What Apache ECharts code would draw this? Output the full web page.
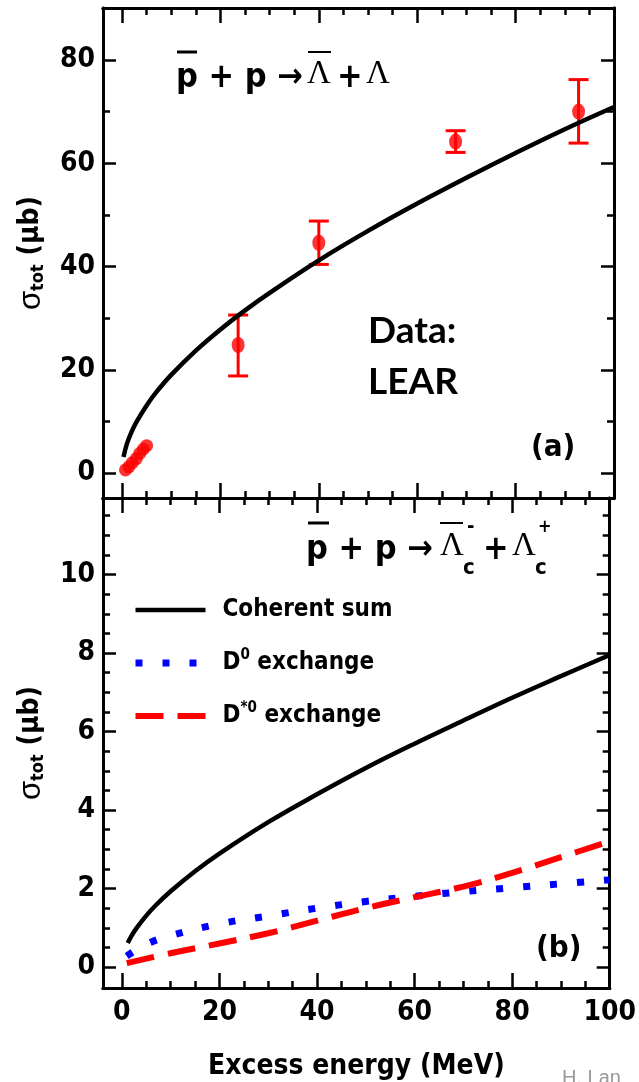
<!DOCTYPE html>
<html><head><meta charset="utf-8">
<script src="https://cdn.jsdelivr.net/npm/echarts@6/dist/echarts.min.js"></script>
<style>html,body{margin:0;padding:0;background:#fff}#c{width:639px;height:1082px}</style>
</head><body><div id="c"></div>
<script>
// ---------- data ----------
// panel (a): LEAR data near threshold (no visible error bars)
const lowE   = [0.7, 1.4, 2.1, 2.9, 3.6, 4.3, 5.0];
const lowSig = [0.6, 1.2, 2.0, 2.8, 3.8, 4.6, 5.3];
// panel (a): LEAR data with error bars
const errE   = [23.6, 40.0, 67.8, 92.8];
const errSig = [24.8, 44.6, 64.2, 70.0];
const errLo  = [18.8, 40.4, 62.1, 63.9];
const errHi  = [30.6, 48.8, 66.3, 76.2];
// panel (a): model curve
const curveAE   = [0.3, 1, 2, 3, 5, 7, 10, 15, 20, 25, 30, 40, 50, 60, 70, 80, 90, 100];
const curveASig = [3.1, 5.7, 8.1, 10.0, 13.1, 15.7, 19.0, 23.7, 27.8, 31.5, 34.9, 41.2, 46.9, 52.2, 57.2, 62.0, 66.6, 70.9];
// panel (b): model curves
const cohE   = [1.2, 2, 3, 5, 7, 10, 15, 20, 30, 40, 50, 60, 70, 80, 90, 100];
const cohSig = [0.61, 0.8, 0.99, 1.31, 1.58, 1.93, 2.44, 2.89, 3.69, 4.40, 5.07, 5.69, 6.28, 6.86, 7.41, 7.95];
const d0E    = [1, 5, 10, 20, 30, 40, 50, 60, 70, 80, 90, 100];
const d0Sig  = [0.28, 0.58, 0.8, 1.1, 1.3, 1.5, 1.67, 1.8, 1.92, 2.02, 2.12, 2.22];
const dsE    = [1, 10, 20, 30, 40, 50, 60, 70, 80, 90, 100];
const dsSig  = [0.1, 0.35, 0.6, 0.86, 1.18, 1.5, 1.78, 2.05, 2.4, 2.8, 3.2];
const legendNames = ['Coherent sum', 'D0 exchange', 'D*0 exchange'];
// ticks
const xMajor    = [0, 20, 40, 60, 80, 100];
const xMinor    = [5, 10, 15, 25, 30, 35, 45, 50, 55, 65, 70, 75, 85, 90, 95];
const yTopMajor = [0, 20, 40, 60, 80];
const yTopMinor = [10, 30, 50, 70];
const yBotMajor = [0, 2, 4, 6, 8, 10];
const yBotMinor = [0.5, 1, 1.5, 2.5, 3, 3.5, 4.5, 5, 5.5, 6.5, 7, 7.5, 8.5, 9, 9.5, 10.5, 11, 11.5];

// ---------- chart ----------
const NARROW = "'Liberation Sans Narrow', 'DejaVu Sans Condensed', 'Arial Narrow', sans-serif";
const SERIF = "'Liberation Serif', 'DejaVu Serif', serif";
const X_MIN = -3.87, X_MAX = 100;
const YA_MIN = -4.84, YA_MAX = 90.07;
const YB_MIN = -0.535, YB_MAX = 11.95;

function mkAxis(grid, pos, min, max, vals, len, showLabels, extra) {
  const a = {
    type: 'value', gridIndex: grid, position: pos, min: min, max: max,
    axisLine: { show: true, onZero: false, lineStyle: { color: '#000', width: 3 } },
    axisTick: { show: true, inside: true, length: len, customValues: vals, lineStyle: { color: '#000', width: 2.5 } },
    axisLabel: { show: false },
    splitLine: { show: false }
  };
  if (showLabels) {
    a.axisLabel = { show: true, customValues: vals, color: '#000', fontFamily: NARROW, fontWeight: 'bold', fontSize: 28,
      margin: (pos === 'left' ? 8 : 11) };
  }
  return Object.assign(a, extra || {});
}

const xAxes = [
  mkAxis(0, 'bottom', X_MIN, X_MAX, xMajor, 15, false),
  mkAxis(0, 'bottom', X_MIN, X_MAX, xMinor, 7, false),
  mkAxis(0, 'top', X_MIN, X_MAX, xMajor, 15, false),
  mkAxis(0, 'top', X_MIN, X_MAX, xMinor, 7, false),
  mkAxis(1, 'bottom', X_MIN, X_MAX, xMajor, 15, true, {
    name: 'Excess energy (MeV)', nameLocation: 'middle', nameGap: 65,
    nameTextStyle: { color: '#000', fontFamily: NARROW, fontWeight: 'bold', fontSize: 28 } }),
  mkAxis(1, 'bottom', X_MIN, X_MAX, xMinor, 7, false),
  mkAxis(1, 'top', X_MIN, X_MAX, xMajor, 15, false),
  mkAxis(1, 'top', X_MIN, X_MAX, xMinor, 7, false)
];
const yName = {
  name: '{s|σ}{t|tot}{u| (μb)}', nameLocation: 'middle', nameGap: 56, nameRotate: 90,
  nameTextStyle: { color: '#000', rich: {
    s: { fontFamily: "'Liberation Sans', sans-serif", fontSize: 31, color: '#000' },
    t: { fontFamily: NARROW, fontWeight: 'bold', fontSize: 18, color: '#000', verticalAlign: 'bottom', padding: [14, 0, 0, 0] },
    u: { fontFamily: NARROW, fontWeight: 'bold', fontSize: 28, color: '#000' } } }
};
const yAxes = [
  mkAxis(0, 'left', YA_MIN, YA_MAX, yTopMajor, 13, true, yName),
  mkAxis(0, 'left', YA_MIN, YA_MAX, yTopMinor, 7, false),
  mkAxis(0, 'right', YA_MIN, YA_MAX, yTopMajor, 13, false),
  mkAxis(0, 'right', YA_MIN, YA_MAX, yTopMinor, 7, false),
  mkAxis(1, 'left', YB_MIN, YB_MAX, yBotMajor, 13, true, yName),
  mkAxis(1, 'left', YB_MIN, YB_MAX, yBotMinor, 7, false),
  mkAxis(1, 'right', YB_MIN, YB_MAX, yBotMajor, 13, false),
  mkAxis(1, 'right', YB_MIN, YB_MAX, yBotMinor, 7, false)
];

const zip = (a, b) => a.map((v, i) => [v, b[i]]);
const lgFont = { color: '#000', fontFamily: NARROW, fontWeight: 'bold', fontSize: 24, lineHeight: 30 };

const option = {
  animation: false,
  backgroundColor: '#fff',
  grid: [
    { left: 103, right: 25, top: 8, height: 490 },
    { left: 103, right: 25, top: 498, height: 490 }
  ],
  xAxis: xAxes,
  yAxis: yAxes,
  legend: {
    orient: 'vertical', left: 127, top: 590, itemWidth: 70, itemHeight: 14, itemGap: 23,
    selectedMode: false,
    itemStyle: { opacity: 0 },
    lineStyle: { width: 'inherit', type: 'inherit', cap: 'inherit' },
    textStyle: Object.assign({}, lgFont, {
      rich: {
        g: { width: 12 },
        n: lgFont,
        sp: { color: '#000', fontFamily: NARROW, fontWeight: 'bold', fontSize: 15, lineHeight: 16, verticalAlign: 'top' }
      } }),
    formatter: function (name) {
      if (name === 'D0 exchange') return '{g|}{n|D}{sp|0}{n| exchange}';
      if (name === 'D*0 exchange') return '{g|}{n|D}{sp|*0}{n| exchange}';
      return '{g|}{n|' + name + '}';
    },
    data: legendNames
  },
  series: [
    { name: 'LEAR low', type: 'scatter', xAxisIndex: 0, yAxisIndex: 0, data: zip(lowE, lowSig),
      symbol: 'circle', symbolSize: 13, itemStyle: { color: '#ff0000' }, z: 3 },
    { name: 'LEAR', type: 'scatter', xAxisIndex: 0, yAxisIndex: 0, data: zip(errE, errSig),
      symbol: 'circle', symbolSize: [13, 16], itemStyle: { color: '#ff0000' }, z: 3 },
    { name: 'LEAR err', type: 'custom', xAxisIndex: 0, yAxisIndex: 0, z: 3,
      data: errE.map((e, i) => [e, errLo[i], errHi[i]]),
      renderItem: function (params, api) {
        const lo = api.coord([api.value(0), api.value(1)]);
        const hi = api.coord([api.value(0), api.value(2)]);
        const w = 10, st = { stroke: '#ff0000', lineWidth: 3 };
        return { type: 'group', children: [
          { type: 'line', shape: { x1: lo[0], y1: lo[1], x2: hi[0], y2: hi[1] }, style: st },
          { type: 'line', shape: { x1: lo[0] - w, y1: lo[1], x2: lo[0] + w, y2: lo[1] }, style: st },
          { type: 'line', shape: { x1: hi[0] - w, y1: hi[1], x2: hi[0] + w, y2: hi[1] }, style: st }
        ] };
      } },
    { name: 'Model (a)', type: 'line', xAxisIndex: 0, yAxisIndex: 0, data: zip(curveAE, curveASig),
      smooth: 0.4, symbol: 'none', lineStyle: { color: '#000', width: 4.5 }, z: 4 },
    { name: legendNames[0], type: 'line', xAxisIndex: 4, yAxisIndex: 4, data: zip(cohE, cohSig),
      smooth: 0.4, symbol: 'none', color: '#000', lineStyle: { color: '#000', width: 4.5 }, z: 4 },
    { name: legendNames[1], type: 'line', xAxisIndex: 4, yAxisIndex: 4, data: zip(d0E, d0Sig),
      smooth: 0.4, symbol: 'none', color: '#0000ff',
      lineStyle: { color: '#0000ff', width: 7, type: [7, 20], cap: 'butt' }, z: 3 },
    { name: legendNames[2], type: 'line', xAxisIndex: 4, yAxisIndex: 4, data: zip(dsE, dsSig),
      smooth: 0.4, symbol: 'none', color: '#ff0000',
      lineStyle: { color: '#ff0000', width: 6, type: [28, 14], cap: 'butt' }, z: 3 }
  ],
  graphic: [
    // panel (a) reaction
    { type: 'text', left: 176, top: 61, z: 10, style: { text: 'p + p →', fontFamily: NARROW, fontWeight: 'bold', fontSize: 34, fill: '#000' } },
    { type: 'text', left: 307, top: 58, z: 10, style: { text: 'Λ', fontFamily: SERIF, fontSize: 33, fill: '#000' } },
    { type: 'text', left: 337, top: 61, z: 10, style: { text: '+', fontFamily: NARROW, fontWeight: 'bold', fontSize: 34, fill: '#000' } },
    { type: 'text', left: 366, top: 58, z: 10, style: { text: 'Λ', fontFamily: SERIF, fontSize: 33, fill: '#000' } },
    { type: 'line', z: 10, shape: { x1: 177, y1: 52, x2: 197, y2: 52 }, style: { stroke: '#000', lineWidth: 3 } },
    { type: 'line', z: 10, shape: { x1: 308, y1: 52, x2: 331, y2: 52 }, style: { stroke: '#000', lineWidth: 2 } },
    // Data: LEAR
    { type: 'text', left: 368, top: 306, z: 10, style: {
        text: 'Data:\nLEAR', fontFamily: "Lato, 'Open Sans', sans-serif", fontWeight: 'bold', fontSize: 37,
        lineHeight: 51, fill: '#000' } },
    { type: 'text', left: 531, top: 432, z: 10, style: { text: '(a)', fontFamily: NARROW, fontWeight: 'bold', fontSize: 31, fill: '#000' } },
    { type: 'text', left: 536, top: 933, z: 10, style: { text: '(b)', fontFamily: NARROW, fontWeight: 'bold', fontSize: 31, fill: '#000' } },
    // panel (b) reaction
    { type: 'text', left: 306, top: 533, z: 10, style: { text: 'p + p →', fontFamily: NARROW, fontWeight: 'bold', fontSize: 34, fill: '#000' } },
    { type: 'text', left: 440, top: 530, z: 10, style: { text: 'Λ', fontFamily: SERIF, fontSize: 33, fill: '#000' } },
    { type: 'text', left: 483, top: 533, z: 10, style: { text: '+', fontFamily: NARROW, fontWeight: 'bold', fontSize: 34, fill: '#000' } },
    { type: 'text', left: 512, top: 530, z: 10, style: { text: 'Λ', fontFamily: SERIF, fontSize: 33, fill: '#000' } },
    { type: 'line', z: 10, shape: { x1: 308, y1: 523, x2: 329, y2: 523 }, style: { stroke: '#000', lineWidth: 3 } },
    { type: 'line', z: 10, shape: { x1: 440, y1: 523, x2: 463, y2: 523 }, style: { stroke: '#000', lineWidth: 2 } },
    { type: 'text', left: 463, top: 557, z: 10, style: { text: 'c', fontFamily: NARROW, fontWeight: 'bold', fontSize: 22, fill: '#000' } },
    { type: 'text', left: 467, top: 517, z: 10, style: { text: '-', fontFamily: NARROW, fontWeight: 'bold', fontSize: 20, fill: '#000' } },
    { type: 'text', left: 535, top: 557, z: 10, style: { text: 'c', fontFamily: NARROW, fontWeight: 'bold', fontSize: 22, fill: '#000' } },
    { type: 'text', left: 538, top: 518, z: 10, style: { text: '+', fontFamily: NARROW, fontWeight: 'bold', fontSize: 18, fill: '#000' } },
    // cut-off credit text
    { type: 'text', left: 562, top: 1068, z: 10, style: { text: 'H. Lan', fontFamily: "'Liberation Sans', sans-serif", fontSize: 20, fill: '#999' } }
  ]
};
const chart = echarts.init(document.getElementById('c'), null, { renderer: 'canvas' });
chart.setOption(option);
</script>
</body></html>
